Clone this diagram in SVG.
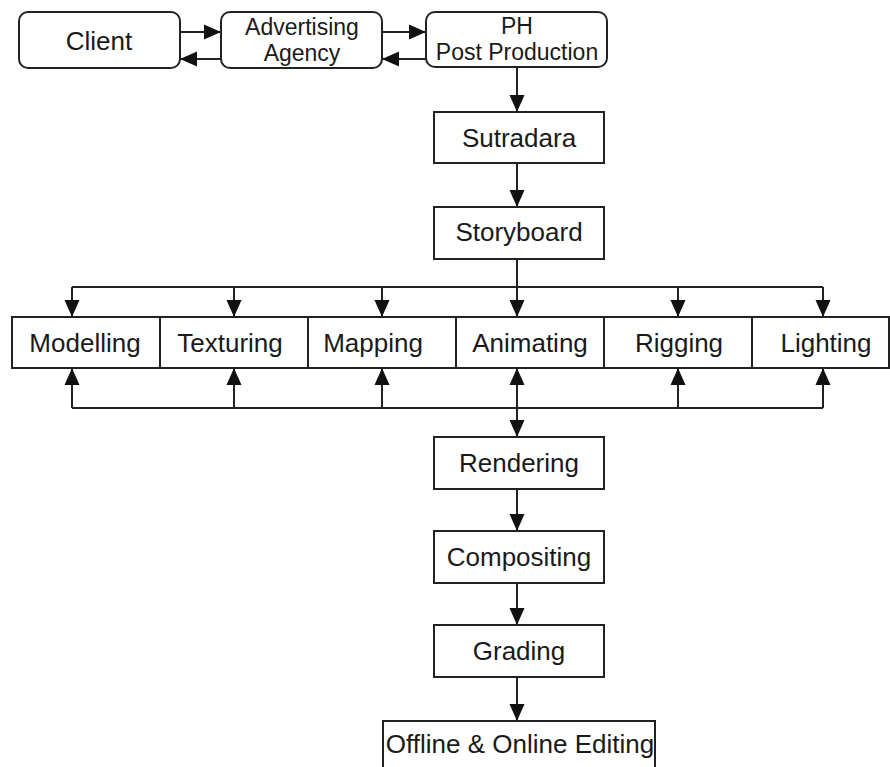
<svg xmlns="http://www.w3.org/2000/svg" width="890" height="767" viewBox="0 0 890 767">
<style>
.box{fill:#fff;stroke:#222;stroke-width:2}
.t{font-family:"Liberation Sans",Arial,sans-serif;font-size:26px;fill:#1a1a1a;text-anchor:middle}
.t2{font-size:23px}
.c{fill:none;stroke:#222;stroke-width:2}
</style>
<defs>
<marker id="ah" markerUnits="userSpaceOnUse" markerWidth="18" markerHeight="18" viewBox="0 0 18 18" refX="17" refY="9" orient="auto-start-reverse">
<path d="M0,1.5 L17,9 L0,16.5 Z" fill="#111"/>
</marker>
</defs>
<rect width="890" height="767" fill="#fff"/>
<g id="connectors">
<line class="c" x1="180" y1="32" x2="221" y2="32" marker-end="url(#ah)"/>
<line class="c" x1="221" y1="59" x2="180" y2="59" marker-end="url(#ah)"/>
<line class="c" x1="382" y1="32" x2="426" y2="32" marker-end="url(#ah)"/>
<line class="c" x1="426" y1="59" x2="382" y2="59" marker-end="url(#ah)"/>
<line class="c" x1="517" y1="67" x2="517" y2="112" marker-end="url(#ah)"/>
<line class="c" x1="517" y1="163" x2="517" y2="207" marker-end="url(#ah)"/>
<line class="c" x1="517" y1="259" x2="517" y2="287"/>
<line class="c" x1="72" y1="287" x2="823" y2="287"/>
<line class="c" x1="72" y1="287" x2="72" y2="317" marker-end="url(#ah)"/>
<line class="c" x1="234" y1="287" x2="234" y2="317" marker-end="url(#ah)"/>
<line class="c" x1="382" y1="287" x2="382" y2="317" marker-end="url(#ah)"/>
<line class="c" x1="517" y1="287" x2="517" y2="317" marker-end="url(#ah)"/>
<line class="c" x1="678" y1="287" x2="678" y2="317" marker-end="url(#ah)"/>
<line class="c" x1="823" y1="287" x2="823" y2="317" marker-end="url(#ah)"/>
<line class="c" x1="72" y1="408" x2="823" y2="408"/>
<line class="c" x1="72" y1="408" x2="72" y2="368" marker-end="url(#ah)"/>
<line class="c" x1="234" y1="408" x2="234" y2="368" marker-end="url(#ah)"/>
<line class="c" x1="382" y1="408" x2="382" y2="368" marker-end="url(#ah)"/>
<line class="c" x1="678" y1="408" x2="678" y2="368" marker-end="url(#ah)"/>
<line class="c" x1="823" y1="408" x2="823" y2="368" marker-end="url(#ah)"/>
<line class="c" x1="517" y1="368" x2="517" y2="437" marker-start="url(#ah)" marker-end="url(#ah)"/>
<line class="c" x1="517" y1="489" x2="517" y2="531" marker-end="url(#ah)"/>
<line class="c" x1="517" y1="583" x2="517" y2="625" marker-end="url(#ah)"/>
<line class="c" x1="517" y1="677" x2="517" y2="721" marker-end="url(#ah)"/>
</g>
<g id="client"><rect class="box" x="19" y="12" width="161" height="56" rx="9"/><text class="t" x="99" y="50">Client</text></g>
<g id="agency"><rect class="box" x="221" y="12" width="161" height="56" rx="9"/><text class="t t2" x="302" y="35">Advertising</text><text class="t t2" x="302" y="61">Agency</text></g>
<g id="ph"><rect class="box" x="426" y="12" width="181" height="55" rx="9"/><text class="t t2" x="517" y="34">PH</text><text class="t t2" x="517" y="60">Post Production</text></g>
<g id="sutradara"><rect class="box" x="434" y="112" width="170" height="51"/><text class="t" x="519" y="147">Sutradara</text></g>
<g id="storyboard"><rect class="box" x="434" y="207" width="170" height="52"/><text class="t" x="519" y="241">Storyboard</text></g>
<g id="modelling"><rect class="box" x="12" y="317" width="148" height="51"/><text class="t" x="85" y="352">Modelling</text></g>
<g id="texturing"><rect class="box" x="160" y="317" width="148" height="51"/><text class="t" x="230" y="352">Texturing</text></g>
<g id="mapping"><rect class="box" x="308" y="317" width="148" height="51"/><text class="t" x="373" y="352">Mapping</text></g>
<g id="animating"><rect class="box" x="456" y="317" width="148" height="51"/><text class="t" x="530" y="352">Animating</text></g>
<g id="rigging"><rect class="box" x="604" y="317" width="148" height="51"/><text class="t" x="679" y="352">Rigging</text></g>
<g id="lighting"><rect class="box" x="752" y="317" width="137" height="51"/><text class="t" x="826" y="352">Lighting</text></g>
<g id="rendering"><rect class="box" x="434" y="437" width="170" height="52"/><text class="t" x="519" y="472">Rendering</text></g>
<g id="compositing"><rect class="box" x="434" y="531" width="170" height="52"/><text class="t" x="519" y="566">Compositing</text></g>
<g id="grading"><rect class="box" x="434" y="625" width="170" height="52"/><text class="t" x="519" y="660">Grading</text></g>
<g id="editing"><rect class="box" x="383" y="721" width="272" height="60"/><text class="t" x="520" y="753">Offline &amp; Online Editing</text></g>
</svg>
